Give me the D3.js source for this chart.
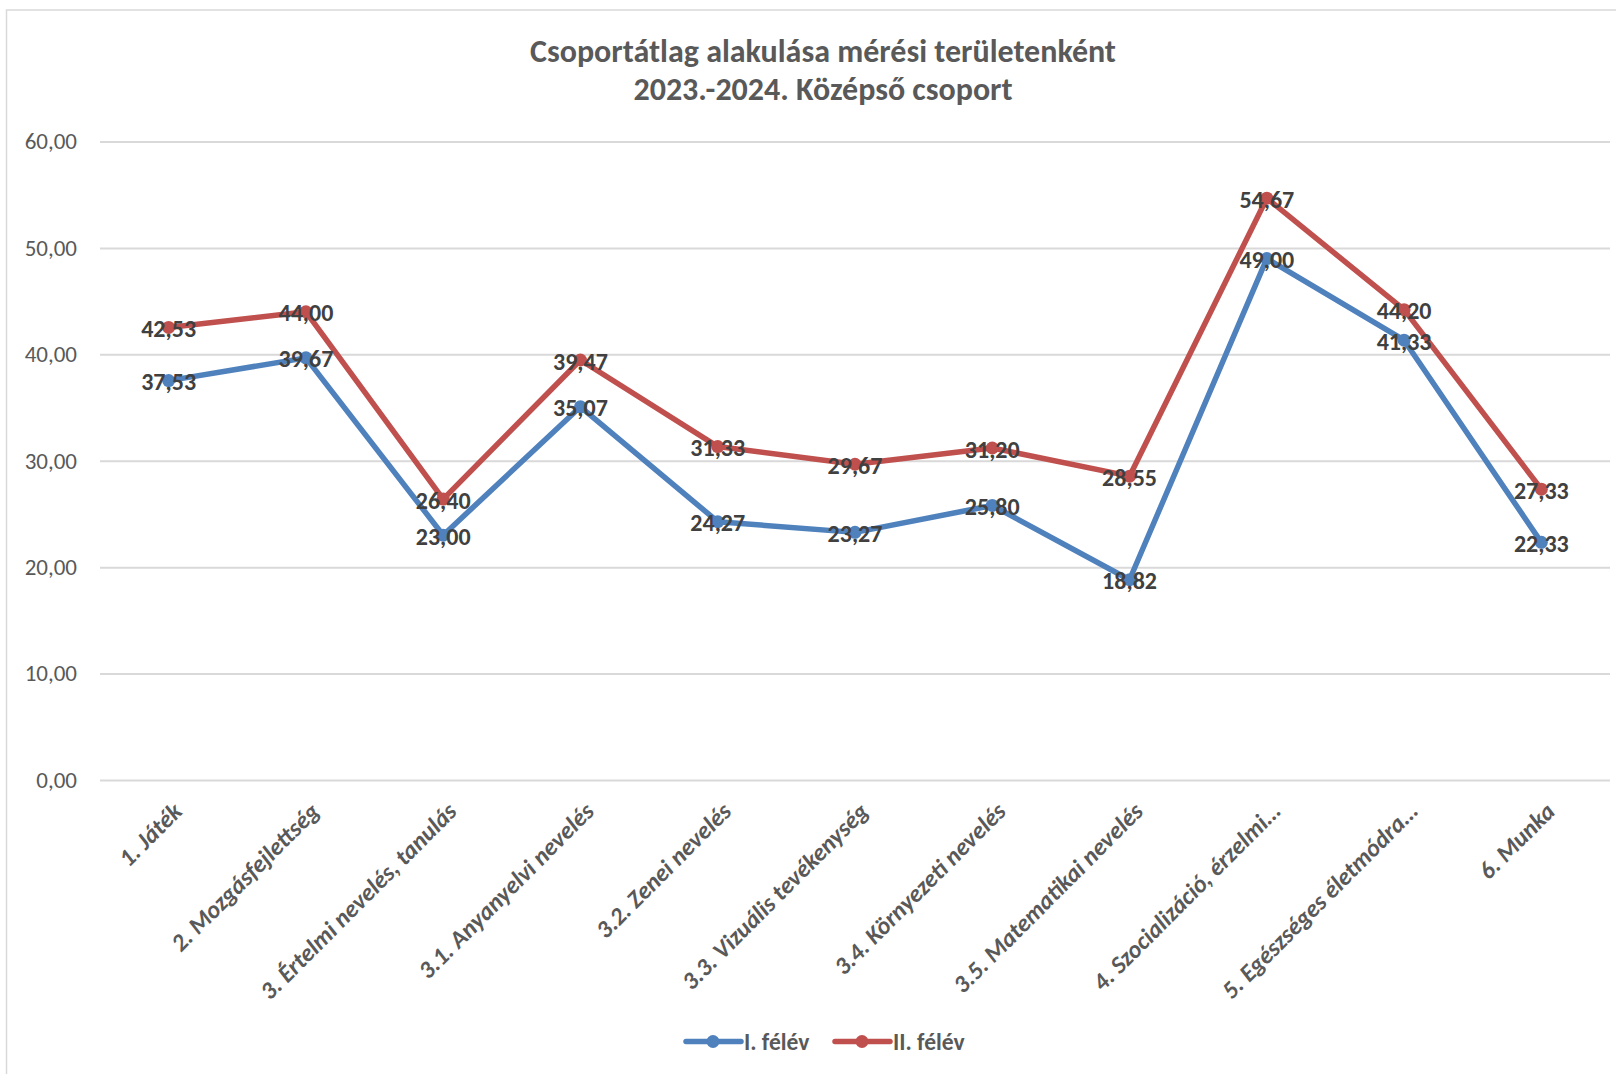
<!DOCTYPE html>
<html>
<head>
<meta charset="utf-8">
<script src="https://cdn.jsdelivr.net/npm/d3@7/dist/d3.min.js"></script>
<style>
  html, body { margin: 0; padding: 0; background: #fff; }
  svg { display: block; }
</style>
</head>
<body>
<svg id="chart" width="1616" height="1074"></svg>
<script>
const categories = [
  "1. Játék",
  "2. Mozgásfejlettség",
  "3. Értelmi nevelés, tanulás",
  "3.1. Anyanyelvi nevelés",
  "3.2. Zenei nevelés",
  "3.3. Vizuális tevékenység",
  "3.4. Környezeti nevelés",
  "3.5. Matematikai nevelés",
  "4. Szocializáció, érzelmi…",
  "5. Egészséges életmódra…",
  "6. Munka"
];
const seriesNames = ["I. félév", "II. félév"];
const felev1 = [37.53, 39.67, 23.00, 35.07, 24.27, 23.27, 25.80, 18.82, 49.00, 41.33, 22.33];
const felev2 = [42.53, 44.00, 26.40, 39.47, 31.33, 29.67, 31.20, 28.55, 54.67, 44.20, 27.33];
const yTicks = [0, 10, 20, 30, 40, 50, 60];
const titleLines = ["Csoportátlag alakulása mérési területenként", "2023.-2024. Középső csoport"];

const colors = ["#4F81BD", "#C0504D"];
const FONT = "Carlito, Calibri, Lato, sans-serif";

const svg = d3.select("#chart");
const fmt = v => d3.format(".2f")(v).replace(".", ",");

// chart border (top and left visible)
svg.append("rect")
  .attr("x", 6.5).attr("y", 10).attr("width", 1700).attr("height", 1200)
  .attr("fill", "#fff").attr("stroke", "#D9D9D9").attr("stroke-width", 1.5);

const plot = { left: 100, right: 1610, top: 141.5, bottom: 780 };

const x = d3.scaleBand().domain(categories).range([plot.left, plot.right]);
const cx = c => x(c) + x.bandwidth() / 2;
const y = d3.scaleLinear().domain([0, 60]).range([plot.bottom, plot.top]);

// title
const title = svg.append("text")
  .attr("x", 823).attr("y", 62)
  .attr("text-anchor", "middle")
  .attr("font-family", FONT).attr("font-weight", "bold")
  .attr("font-size", 32).attr("fill", "#595959");
titleLines.forEach((t, i) => {
  title.append("tspan").attr("x", 823).attr("dy", i === 0 ? 0 : 38).text(t);
});

// y axis with gridlines
const yAxis = svg.append("g")
  .attr("transform", `translate(${plot.left},0)`)
  .call(d3.axisLeft(y).tickValues(yTicks).tickFormat(fmt)
    .tickSize(-(plot.right - plot.left)).tickPadding(23));
yAxis.select(".domain").remove();
yAxis.selectAll(".tick line").attr("stroke", "#D9D9D9").attr("stroke-width", 2);
yAxis.selectAll(".tick text")
  .attr("font-family", FONT).attr("font-size", 23).attr("fill", "#595959");

// x axis labels
const xAxis = svg.append("g")
  .attr("transform", `translate(0,${plot.bottom})`)
  .call(d3.axisBottom(x).tickSize(0));
xAxis.select(".domain").remove();
xAxis.selectAll(".tick text")
  .attr("font-family", FONT).attr("font-size", 24.5)
  .attr("font-weight", "bold").attr("font-style", "italic")
  .attr("fill", "#595959")
  .attr("text-anchor", "end")
  .attr("x", 0).attr("y", 0).attr("dy", 0)
  .attr("transform", "translate(15,33) rotate(-45)");

// lines
const seriesData = [felev1, felev2];
const line = d3.line().x((d, i) => cx(categories[i])).y(d => y(d));
seriesData.forEach((vals, s) => {
  const g = svg.append("g");
  g.append("path").datum(vals)
    .attr("d", line).attr("fill", "none")
    .attr("stroke", colors[s]).attr("stroke-width", 5.5)
    .attr("stroke-linejoin", "round").attr("stroke-linecap", "round");
  g.selectAll("circle").data(vals).join("circle")
    .attr("cx", (d, i) => cx(categories[i])).attr("cy", d => y(d))
    .attr("r", 6.5).attr("fill", colors[s]);
});
// data labels
seriesData.forEach((vals, s) => {
  svg.append("g").selectAll("text").data(vals).join("text")
    .attr("x", (d, i) => cx(categories[i])).attr("y", d => y(d))
    .attr("dy", "0.4em")
    .attr("text-anchor", "middle")
    .attr("font-family", FONT).attr("font-weight", "bold").attr("font-size", 24)
    .attr("fill", "#404040")
    .text(d => fmt(d));
});

// legend
const legendItems = [{ x: 686 }, { x: 835 }];
const legend = svg.append("g").attr("transform", "translate(0,1041.5)");
seriesNames.forEach((name, s) => {
  const lx = legendItems[s].x;
  legend.append("line").attr("x1", lx).attr("x2", lx + 55).attr("y1", 0).attr("y2", 0)
    .attr("stroke", colors[s]).attr("stroke-width", 5.5).attr("stroke-linecap", "round");
  legend.append("circle").attr("cx", lx + 27).attr("cy", 0).attr("r", 6.5).attr("fill", colors[s]);
  legend.append("text").attr("x", lx + 58).attr("y", 0).attr("dy", "0.35em")
    .attr("font-family", FONT).attr("font-weight", "bold").attr("font-size", 23.5)
    .attr("fill", "#595959").text(name);
});
</script>
</body>
</html>
